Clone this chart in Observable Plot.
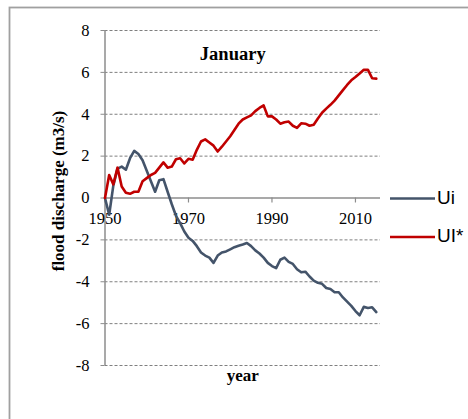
<!DOCTYPE html>
<html>
<head>
<meta charset="utf-8">
<script src="https://cdn.jsdelivr.net/npm/d3@7"></script>
<script src="https://cdn.jsdelivr.net/npm/@observablehq/plot@0.6"></script>
<style>
  html, body { margin: 0; padding: 0; background: #fff; }
  svg { display: block; }
</style>
</head>
<body>
<div id="chart"></div>
<script>
// Annual years of record
const years = d3.range(1950, 2016);

// Ui statistic (January)
const ui = [
  0, -0.8, 0.6, 1.4, 1.5, 1.35, 1.9, 2.25, 2.1, 1.8,
  1.3, 0.8, 0.3, 0.85, 0.9, 0.3, -0.3, -0.85, -1.2, -1.6,
  -1.9, -2.05, -2.3, -2.6, -2.75, -2.85, -3.1, -2.75, -2.6, -2.55,
  -2.45, -2.35, -2.28, -2.22, -2.15, -2.3, -2.5, -2.65, -2.85, -3.1,
  -3.25, -3.35, -2.95, -2.85, -3.05, -3.15, -3.4, -3.55, -3.52, -3.75,
  -3.95, -4.05, -4.1, -4.3, -4.35, -4.5, -4.5, -4.75, -4.95, -5.15,
  -5.4, -5.6, -5.2, -5.25, -5.22, -5.45
];

// UI* statistic (January)
const uiStar = [
  0, 1.1, 0.65, 1.45, 0.55, 0.25, 0.2, 0.3, 0.3, 0.8,
  0.95, 1.1, 1.2, 1.45, 1.7, 1.45, 1.5, 1.85, 1.9, 1.65,
  1.87, 1.83, 2.3, 2.7, 2.8, 2.65, 2.5, 2.22, 2.45, 2.7,
  2.95, 3.25, 3.55, 3.75, 3.85, 3.95, 4.15, 4.3, 4.42, 3.9,
  3.9, 3.75, 3.55, 3.62, 3.65, 3.45, 3.35, 3.57, 3.55, 3.45,
  3.5, 3.8, 4.07, 4.27, 4.45, 4.65, 4.9, 5.15, 5.4, 5.62,
  5.78, 5.95, 6.12, 6.12, 5.72, 5.7
];

const yTicks = [-8, -6, -4, -2, 0, 2, 4, 6, 8];
const xTickYears = [1950, 1970, 1990, 2010];
const seriesNames = ["Ui", "UI*"];
const seriesColors = ["#44546A", "#C00000"];

const rows = years.map((year, i) => ({year, ui: ui[i], uiStar: uiStar[i]}));

const serif = "Liberation Serif, Times New Roman, serif";
const sans = "Liberation Sans, Arial, sans-serif";
const axisGray = "#8c8c8c";

const chart = Plot.plot({
  width: 468,
  height: 419,
  marginLeft: 104.5,
  marginRight: 88,
  marginTop: 30,
  marginBottom: 54,
  style: {fontFamily: serif, background: "#fff", overflow: "visible"},
  x: {domain: [1950, 2016], axis: null},
  y: {domain: [-8, 8]},
  marks: [
    // dashed horizontal gridlines
    Plot.ruleY(yTicks.filter(d => d !== 0), {stroke: "#7f7f7f", strokeWidth: 1, strokeDasharray: "3,2"}),
    // vertical axis with left ticks
    Plot.axisY({ticks: yTicks, tickSize: 4, tickPadding: 11.5, fontSize: 16.5, stroke: axisGray, tickFormat: d => String(d), label: null}),
    Plot.ruleX([1950], {stroke: axisGray, strokeWidth: 1.5}),
    // horizontal axis through zero
    Plot.ruleY([0], {stroke: axisGray, strokeWidth: 1.5}),
    Plot.ruleX(xTickYears, {x: d => d, y1: 0, y2: 0, insetBottom: -5, stroke: axisGray, strokeWidth: 1.2}),
    Plot.text(xTickYears, {x: d => d, y: 0, dy: 21, text: d => String(d), fontSize: 16.5, fill: "#000"}),
    // series
    Plot.line(rows, {x: "year", y: "ui", stroke: seriesColors[0], strokeWidth: 2.6}),
    Plot.line(rows, {x: "year", y: "uiStar", stroke: seriesColors[1], strokeWidth: 2.6}),
    // title and x label
    Plot.text(["January"], {frameAnchor: "top", dx: -10, dy: 16, text: d => d, fontSize: 18.5, fontWeight: "bold", fill: "#000"}),
    Plot.text(["year"], {frameAnchor: "bottom", dx: 0, dy: 15, text: d => d, fontSize: 17, fontWeight: "bold", fill: "#000"})
  ]
});

const svg = d3.select(chart);

// outer chart-area border
svg.insert("rect", ":first-child")
  .attr("x", 9.5).attr("y", 7.5)
  .attr("width", 480).attr("height", 430)
  .attr("fill", "none").attr("stroke", "#a0a0a0").attr("stroke-width", 1.8);

// rotated y-axis title
svg.append("text")
  .attr("transform", "translate(60,191) rotate(-90)")
  .attr("text-anchor", "middle")
  .attr("dominant-baseline", "middle")
  .attr("font-family", serif)
  .attr("font-size", 17)
  .attr("font-weight", "bold")
  .attr("fill", "#000")
  .text("flood discharge (m3/s)");

// legend
const legend = svg.append("g");
seriesNames.forEach((name, i) => {
  const cy = 198.5 + i * 38.5;
  legend.append("line")
    .attr("x1", 390).attr("x2", 435)
    .attr("y1", cy).attr("y2", cy)
    .attr("stroke", seriesColors[i]).attr("stroke-width", 2.6);
  legend.append("text")
    .attr("x", 437).attr("y", cy)
    .attr("text-anchor", "start")
    .attr("dominant-baseline", "middle")
    .attr("font-family", sans)
    .attr("font-size", 19)
    .attr("fill", "#000")
    .text(name);
});

document.getElementById("chart").appendChild(chart);
</script>
</body>
</html>
